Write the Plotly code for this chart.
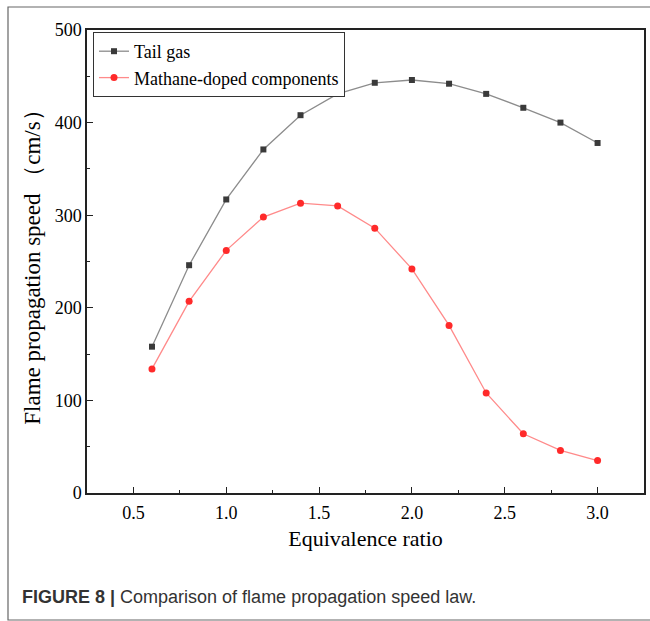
import plotly.graph_objects as go

ratio = [0.6, 0.8, 1.0, 1.2, 1.4, 1.6, 1.8, 2.0, 2.2, 2.4, 2.6, 2.8, 3.0]
tail_gas = [158, 246, 317, 371, 408, 431, 443, 446, 442, 431, 416, 400, 378]
methane_doped = [134, 207, 262, 298, 313, 310, 286, 242, 181, 108, 64, 46, 35]

x_ticks = [0.5, 1.0, 1.5, 2.0, 2.5, 3.0]
y_ticks = [0, 100, 200, 300, 400, 500]

W, H = 650, 621
L, R, T, B = 87, 6, 30, 128
pw, ph = W - L - R, H - T - B

def px(xp):
    return (xp - L) / pw

def py(yp):
    return (H - B - yp) / ph

serif = "Liberation Serif"

fig = go.Figure()
fig.add_trace(go.Scatter(
    x=ratio, y=tail_gas, mode="lines+markers", name="Tail gas",
    line=dict(color="#8c8c8c", width=1.3),
    marker=dict(symbol="square", size=6, color="#3a3a3a"),
))
fig.add_trace(go.Scatter(
    x=ratio, y=methane_doped, mode="lines+markers", name="Mathane-doped components",
    line=dict(color="#ff8a8a", width=1.3),
    marker=dict(symbol="circle", size=7, color="#ff2a2a"),
))

fig.update_layout(
    width=W, height=H,
    margin=dict(l=L, r=R, t=T, b=B, autoexpand=False),
    paper_bgcolor="white", plot_bgcolor="white",
    font=dict(family=serif, color="black"),
    showlegend=True,
    legend=dict(
        x=px(93), y=py(32), xanchor="left", yanchor="top",
        bgcolor="white", bordercolor="#333", borderwidth=1,
        font=dict(family=serif, size=18, color="black"),
        tracegroupgap=0, itemwidth=30,
    ),
    xaxis=dict(
        range=[0.25, 3.25], tickvals=x_ticks,
        ticktext=[f"{v:.1f}" for v in x_ticks],
        showgrid=False, zeroline=False,
        showline=True, linecolor="#222", linewidth=1.5, mirror=True,
        ticks="inside", ticklen=6, tickwidth=1.2, tickcolor="#222",
        minor=dict(ticks="inside", ticklen=3, tickwidth=1, tickcolor="#222", dtick=0.25, tick0=0.25),
        tickfont=dict(family=serif, size=18, color="black"),
        ticklabelstandoff=3,
        title=dict(text="Equivalence ratio", font=dict(family=serif, size=22, color="black"), standoff=8),
    ),
    yaxis=dict(
        range=[0, 500], tickvals=y_ticks,
        showgrid=False, zeroline=False,
        showline=True, linecolor="#222", linewidth=1.5, mirror=True,
        ticks="inside", ticklen=6, tickwidth=1.2, tickcolor="#222",
        minor=dict(ticks="inside", ticklen=3, tickwidth=1, tickcolor="#222", dtick=50),
        tickfont=dict(family=serif, size=18, color="black"),
        title=dict(text="Flame propagation speed （cm/s）", font=dict(family=serif, size=23, color="black"), standoff=8),
    ),
)

# outer frame around figure + caption
fig.add_shape(type="rect", xref="paper", yref="paper",
              x0=px(8), x1=px(652), y0=py(620), y1=py(7),
              line=dict(color="#666", width=1.2), fillcolor="rgba(0,0,0,0)", layer="below")

fig.add_annotation(
    xref="paper", yref="paper", x=px(20), y=py(597), xanchor="left", yanchor="middle",
    text="<b>FIGURE 8 |</b> Comparison of flame propagation speed law.",
    showarrow=False, font=dict(family="Liberation Sans", size=18, color="#333"),
)

fig.write_html("out.html")
